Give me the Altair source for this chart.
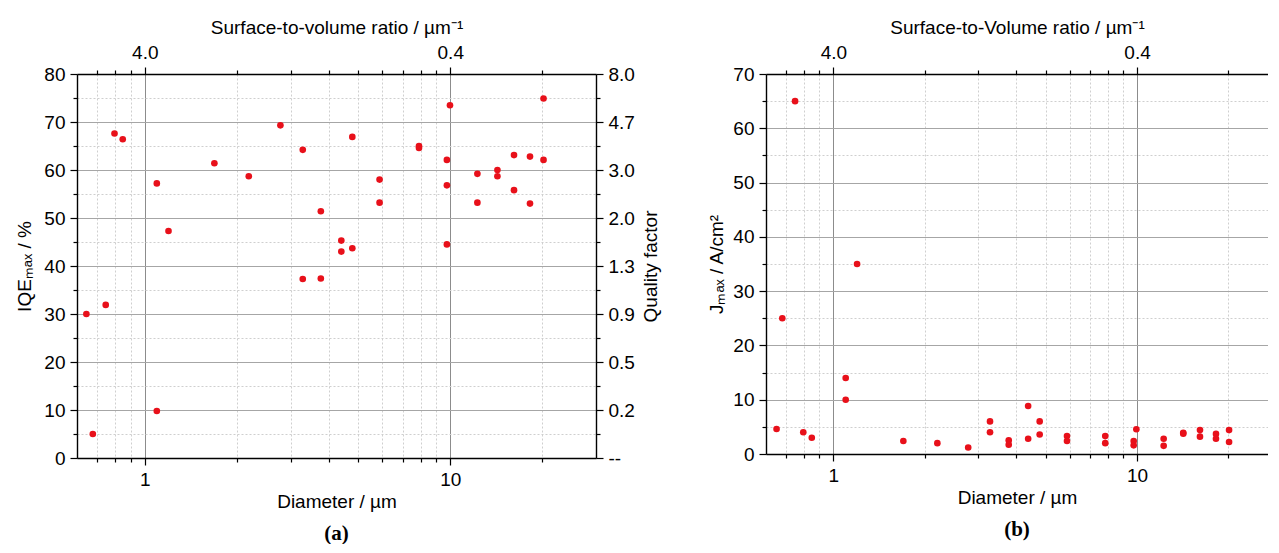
import altair as alt
import pandas as pd

# ---------------- data ----------------
# Panel (a): diameter (µm) vs IQE_max (%)
a_diameter = [0.644, 0.676, 0.745, 0.796, 0.847, 1.095, 1.095, 1.196, 1.69, 2.19,
              2.78, 3.29, 3.29, 3.77, 3.77, 4.40, 4.40, 4.78, 4.78, 5.87,
              5.87, 7.90, 7.90, 9.98, 9.75, 9.75, 9.75, 12.27, 12.27, 14.27,
              14.27, 16.17, 16.17, 18.24, 18.24, 20.2, 20.2]
a_iqe = [30.0, 5.0, 31.9, 67.6, 66.4, 57.2, 9.8, 47.3, 61.4, 58.7,
         69.3, 64.2, 37.3, 51.4, 37.4, 45.3, 43.0, 66.9, 43.7, 58.0,
         53.2, 65.0, 64.6, 73.5, 62.1, 56.8, 44.5, 59.2, 53.2, 60.0,
         58.7, 63.1, 55.8, 62.8, 53.0, 74.9, 62.1]

# Panel (b): diameter (µm) vs J_max (A/cm²)
b_diameter = [0.65, 0.679, 0.748, 0.796, 0.849, 1.098, 1.098, 1.197, 1.70, 2.20,
              2.78, 3.28, 3.28, 3.78, 3.78, 4.38, 4.38, 4.78, 4.78, 5.88,
              5.88, 7.86, 7.86, 9.95, 9.75, 9.75, 12.24, 12.24, 14.2, 14.2,
              16.12, 16.12, 18.2, 18.2, 20.1, 20.1]
b_j = [4.6, 25.0, 65.0, 4.0, 3.0, 14.0, 10.0, 35.0, 2.4, 2.0,
       1.2, 6.0, 4.0, 2.5, 1.7, 8.85, 2.8, 6.0, 3.6, 3.3,
       2.4, 3.3, 2.0, 4.55, 2.4, 1.6, 2.8, 1.5, 3.9, 3.75,
       4.4, 3.2, 3.7, 2.8, 4.4, 2.2]

# ticks and labels
x_ticks = [0.7, 0.8, 0.9, 1, 2, 3, 4, 5, 6, 7, 8, 9, 10, 20]
x_major = [1, 10]
x_bottom_labels = ["1", "10"]
x_top_labels = ["4.0", "0.4"]
a_y_ticks = list(range(0, 81, 5))
b_y_ticks = list(range(0, 71, 5))
quality_labels = ["--", "0.2", "0.5", "0.9", "1.3", "2.0", "3.0", "4.7", "8.0"]

# ---------------- styling ----------------
FONT = "Liberation Sans"
RED = "#e8101a"
MAJOR_GRID = "#a6a6a6"
MINOR_GRID = "#cfcfcf"

x_major_test = " || ".join(f"datum.value == {v}" for v in x_major)
y_major_test = "datum.value % 10 == 0"


def x_label_expr(labels):
    expr = "''"
    for v, lab in reversed(list(zip(x_major, labels))):
        expr = f"datum.value == {v} ? '{lab}' : {expr}"
    return expr


def cond(test, major, minor):
    return {"condition": {"test": test, "value": major}, "value": minor}


def x_axis(orient, labels, title, grid):
    kw = dict(
        orient=orient, values=x_ticks, labelExpr=x_label_expr(labels), title=title,
        labelOverlap=False, labelFlush=False, grid=grid,
        tickSize=cond(x_major_test, 7, 4), labelPadding=5,
        titlePadding=3 if orient == "bottom" else 6,
    )
    if grid:
        kw["gridDash"] = cond(x_major_test, [], [2, 2])
        kw["gridColor"] = cond(x_major_test, "#8c8c8c", MINOR_GRID)
    return alt.Axis(**kw)


def y_axis(orient, ticks, title, grid, label_expr, title_pad):
    kw = dict(
        orient=orient, values=ticks, labelExpr=label_expr, title=title,
        labelOverlap=False, labelFlush=False, grid=grid,
        tickSize=cond(y_major_test, 7, 4), labelPadding=5, titlePadding=title_pad,
        titleAngle=270,
    )
    if orient == "right":
        kw["titleBaseline"] = "top"
    if grid:
        kw["gridDash"] = cond(y_major_test, [], [2, 2])
        kw["gridColor"] = cond(y_major_test, MAJOR_GRID, MINOR_GRID)
    return alt.Axis(**kw)


def bottom_title(text):
    return alt.TitleParams(text, orient="bottom", font="Liberation Serif", fontSize=21,
                           fontWeight="bold", color="black", offset=12, anchor="middle")


y_plain_expr = f"{y_major_test} ? datum.label : ''"
q_expr = (f"{y_major_test} ? [" + ",".join(f"'{q}'" for q in quality_labels)
          + "][datum.value / 10] : ''")

# ---------------- panel (a) ----------------
df_a = pd.DataFrame({"d": a_diameter, "v": a_iqe})
xs_a = alt.Scale(type="log", domain=[0.6, 30], nice=False)
ys_a = alt.Scale(domain=[0, 80], nice=False, zero=True)

a_points = alt.Chart(df_a).mark_circle(size=44, color=RED, opacity=1).encode(
    x=alt.X("d:Q", scale=xs_a, axis=x_axis("bottom", x_bottom_labels, "Diameter / µm", True)),
    y=alt.Y("v:Q", scale=ys_a, axis=y_axis("left", a_y_ticks, "IQEₘₐₓ / %", True, y_plain_expr, 9)),
)
a_frame = alt.Chart(df_a).mark_point(opacity=0).encode(
    x=alt.X("d:Q", scale=xs_a, axis=x_axis("top", x_top_labels, "Surface-to-volume ratio / µm⁻¹", False)),
    y=alt.Y("v:Q", scale=ys_a, axis=y_axis("right", a_y_ticks, "Quality factor", False, q_expr, 7)),
)
panel_a = alt.layer(a_points, a_frame).resolve_axis(x="independent", y="independent").properties(
    width=519, height=384, title=bottom_title("(a)"))

# ---------------- panel (b) ----------------
df_b = pd.DataFrame({"d": b_diameter, "v": b_j})
xs_b = alt.Scale(type="log", domain=[0.6, 27], nice=False)
ys_b = alt.Scale(domain=[0, 70], nice=False, zero=True)

b_points = alt.Chart(df_b).mark_circle(size=44, color=RED, opacity=1).encode(
    x=alt.X("d:Q", scale=xs_b, axis=x_axis("bottom", x_bottom_labels, "Diameter / µm", True)),
    y=alt.Y("v:Q", scale=ys_b, axis=y_axis("left", b_y_ticks, "Jₘₐₓ / A/cm²", True, y_plain_expr, 6)),
)
b_frame = alt.Chart(df_b).mark_point(opacity=0).encode(
    x=alt.X("d:Q", scale=xs_b, axis=x_axis("top", x_top_labels, "Surface-to-Volume ratio / µm⁻¹", False)),
    y=alt.Y("v:Q", scale=ys_b, axis=None),
)
panel_b = alt.layer(b_points, b_frame).resolve_axis(x="independent", y="independent").properties(
    width=502, height=380, title=bottom_title("(b)"))

chart = alt.hconcat(panel_a, panel_b, spacing=46).configure_axis(
    labelFont=FONT, titleFont=FONT, labelFontSize=19, titleFontSize=19,
    titleFontWeight="normal", labelColor="black", titleColor="black",
    domainColor="black", tickColor="black", domainWidth=1.4, tickWidth=1.2,
).configure_view(stroke=None).properties(background="white", padding={"left": 7, "top": 10, "right": 0, "bottom": 0})

chart.save("out.html", embed_options={"renderer": "svg", "actions": False})
